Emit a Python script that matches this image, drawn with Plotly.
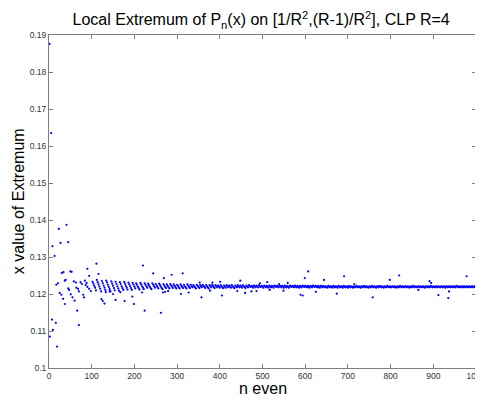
import plotly.graph_objects as go

# main band: one extremum per even n from 102 to 1000
band_n = list(range(102, 1001, 2))
band_x = [
    0.1233, 0.1228, 0.1222, 0.1217, 0.1210, 0.1238, 0.1232, 0.1226, 0.1220, 0.1214,
    0.1207, 0.1235, 0.1229, 0.1223, 0.1217, 0.1211, 0.1236, 0.1231, 0.1225, 0.1219,
    0.1213, 0.1207, 0.1234, 0.1228, 0.1222, 0.1216, 0.1210, 0.1233, 0.1227, 0.1221,
    0.1215, 0.1209, 0.1232, 0.1227, 0.1221, 0.1216, 0.1211, 0.1233, 0.1228, 0.1222,
    0.1217, 0.1212, 0.1231, 0.1226, 0.1221, 0.1216, 0.1211, 0.1230, 0.1225, 0.1220,
    0.1215, 0.1229, 0.1225, 0.1220, 0.1216, 0.1212, 0.1230, 0.1226, 0.1221, 0.1217,
    0.1213, 0.1229, 0.1225, 0.1221, 0.1217, 0.1228, 0.1224, 0.1220, 0.1216, 0.1213,
    0.1229, 0.1225, 0.1221, 0.1217, 0.1227, 0.1223, 0.1219, 0.1215, 0.1228, 0.1224,
    0.1220, 0.1216, 0.1213, 0.1227, 0.1223, 0.1219, 0.1216, 0.1226, 0.1222, 0.1218,
    0.1215, 0.1227, 0.1223, 0.1220, 0.1216, 0.1226, 0.1222, 0.1219, 0.1215, 0.1225,
    0.1222, 0.1218, 0.1215, 0.1226, 0.1222, 0.1219, 0.1216, 0.1225, 0.1221, 0.1218,
    0.1215, 0.1226, 0.1223, 0.1219, 0.1216, 0.1225, 0.1221, 0.1218, 0.1224, 0.1221,
    0.1218, 0.1215, 0.1225, 0.1222, 0.1219, 0.1216, 0.1224, 0.1221, 0.1218, 0.1225,
    0.1222, 0.1219, 0.1216, 0.1224, 0.1221, 0.1218, 0.1215, 0.1224, 0.1221, 0.1218,
    0.1225, 0.1222, 0.1219, 0.1216, 0.1224, 0.1221, 0.1218, 0.1223, 0.1220, 0.1217,
    0.1224, 0.1221, 0.1218, 0.1216, 0.1223, 0.1220, 0.1217, 0.1224, 0.1221, 0.1218,
    0.1223, 0.1220, 0.1217, 0.1224, 0.1221, 0.1218, 0.1216, 0.1223, 0.1220, 0.1218,
    0.1224, 0.1221, 0.1218, 0.1223, 0.1220, 0.1217, 0.1224, 0.1221, 0.1219, 0.1216,
    0.1223, 0.1220, 0.1218, 0.1224, 0.1221, 0.1219, 0.1222, 0.1220, 0.1217, 0.1223,
    0.1221, 0.1218, 0.1223, 0.1220, 0.1218, 0.1224, 0.1221, 0.1219, 0.1222, 0.1220,
    0.1217, 0.1223, 0.1221, 0.1218, 0.1222, 0.1220, 0.1217, 0.1223, 0.1220, 0.1218,
    0.1222, 0.1220, 0.1217, 0.1223, 0.1221, 0.1219, 0.1222, 0.1220, 0.1218, 0.1223,
    0.1221, 0.1218, 0.1222, 0.1220, 0.1217, 0.1223, 0.1220, 0.1218, 0.1222, 0.1219,
    0.1217, 0.1223, 0.1221, 0.1219, 0.1222, 0.1220, 0.1218, 0.1223, 0.1220, 0.1218,
    0.1222, 0.1219, 0.1217, 0.1222, 0.1220, 0.1218, 0.1223, 0.1221, 0.1219, 0.1222,
    0.1220, 0.1218, 0.1222, 0.1219, 0.1217, 0.1222, 0.1220, 0.1218, 0.1223, 0.1221,
    0.1219, 0.1222, 0.1220, 0.1218, 0.1222, 0.1219, 0.1217, 0.1222, 0.1220, 0.1218,
    0.1222, 0.1220, 0.1218, 0.1221, 0.1219, 0.1217, 0.1222, 0.1220, 0.1218, 0.1221,
    0.1219, 0.1217, 0.1222, 0.1220, 0.1218, 0.1221, 0.1219, 0.1217, 0.1222, 0.1220,
    0.1218, 0.1221, 0.1219, 0.1217, 0.1222, 0.1220, 0.1218, 0.1221, 0.1219, 0.1217,
    0.1222, 0.1220, 0.1218, 0.1221, 0.1219, 0.1217, 0.1221, 0.1219, 0.1218, 0.1222,
    0.1220, 0.1218, 0.1221, 0.1219, 0.1217, 0.1221, 0.1220, 0.1218, 0.1222, 0.1220,
    0.1218, 0.1221, 0.1219, 0.1217, 0.1221, 0.1219, 0.1218, 0.1222, 0.1220, 0.1218,
    0.1221, 0.1219, 0.1217, 0.1221, 0.1220, 0.1218, 0.1222, 0.1220, 0.1218, 0.1221,
    0.1219, 0.1217, 0.1221, 0.1219, 0.1218, 0.1222, 0.1220, 0.1218, 0.1221, 0.1219,
    0.1218, 0.1221, 0.1220, 0.1218, 0.1221, 0.1219, 0.1217, 0.1221, 0.1219, 0.1218,
    0.1222, 0.1220, 0.1218, 0.1221, 0.1219, 0.1218, 0.1221, 0.1220, 0.1218, 0.1221,
    0.1219, 0.1217, 0.1221, 0.1219, 0.1218, 0.1222, 0.1220, 0.1218, 0.1221, 0.1219,
    0.1218, 0.1221, 0.1220, 0.1218, 0.1221, 0.1219, 0.1218, 0.1221, 0.1219, 0.1217,
    0.1221, 0.1220, 0.1218, 0.1221, 0.1219, 0.1218, 0.1222, 0.1220, 0.1218, 0.1221,
    0.1219, 0.1218, 0.1221, 0.1220, 0.1218, 0.1221, 0.1219, 0.1218, 0.1221, 0.1220,
    0.1218, 0.1221, 0.1219, 0.1217, 0.1221, 0.1220, 0.1218, 0.1221, 0.1219, 0.1218,
    0.1221, 0.1220, 0.1218, 0.1221, 0.1219, 0.1218, 0.1222, 0.1220, 0.1218, 0.1221,
    0.1219, 0.1218, 0.1221, 0.1220, 0.1218, 0.1221, 0.1219, 0.1218, 0.1221, 0.1220,
    0.1218, 0.1221, 0.1219, 0.1218, 0.1221, 0.1220, 0.1218, 0.1221, 0.1219, 0.1218,
]

# early (small n) extrema and scattered outliers
extra_n = [
    1, 2, 5, 7, 8, 9, 13, 16, 19, 17, 21, 23, 27, 41, 45,
    25, 29, 33, 37, 30, 34, 37, 39, 45, 47, 51, 55, 60, 50, 53,
    58, 63, 66, 70, 64, 68, 70, 74, 77, 80, 82, 90, 94, 86, 90,
    94, 98, 84, 88, 111, 116, 130, 123, 126, 133, 142, 150, 167, 156, 177,
    199, 195, 220, 224, 262, 218, 244, 269, 287, 267, 272, 279, 313, 357, 353,
    383, 401, 405, 448, 459, 309, 327, 377, 441, 474, 486, 517, 549, 625, 494,
    511, 539, 559, 715, 589, 594, 599, 607, 644, 674, 691, 758, 798, 820, 865,
    891, 895, 912, 935, 937, 978,
]
extra_x = [
    0.1876, 0.1085, 0.1635, 0.1131, 0.1329, 0.1103, 0.1303, 0.1122, 0.1058, 0.1225,
    0.1229, 0.1376, 0.1338, 0.1387, 0.1340,
    0.1203, 0.1198, 0.1187, 0.1173, 0.1257, 0.1259, 0.1236, 0.1238, 0.1215, 0.1211,
    0.1199, 0.1191, 0.1182, 0.1261, 0.1260,
    0.1234, 0.1231, 0.1155, 0.1116, 0.1217, 0.1214, 0.1207, 0.1232, 0.1227, 0.1198,
    0.1191, 0.1268, 0.1249, 0.1224, 0.1219,
    0.1214, 0.1208, 0.1236, 0.1230, 0.1282, 0.1254, 0.1174, 0.1186, 0.1181, 0.1205,
    0.1207, 0.1200, 0.1205, 0.1184, 0.1181,
    0.1173, 0.1193, 0.1277, 0.1155, 0.1149, 0.1204, 0.1256, 0.1243, 0.1252, 0.1204,
    0.1206, 0.1208, 0.1256, 0.1191, 0.1231,
    0.1231, 0.1233, 0.1196, 0.1236, 0.1203, 0.1200, 0.1204, 0.1209, 0.1208, 0.1207,
    0.1208, 0.1211, 0.1209, 0.1206, 0.1229,
    0.1232, 0.1227, 0.1230, 0.1227, 0.1198, 0.1196, 0.1243, 0.1261, 0.1238, 0.1201,
    0.1248, 0.1191, 0.1238, 0.1250, 0.1211,
    0.1235, 0.1230, 0.1197, 0.1189, 0.1207, 0.1248,
]

x_ticks = [0, 100, 200, 300, 400, 500, 600, 700, 800, 900, 1000]
y_ticks = [0.1, 0.11, 0.12, 0.13, 0.14, 0.15, 0.16, 0.17, 0.18, 0.19]
y_labels = ["0.1", "0.11", "0.12", "0.13", "0.14", "0.15", "0.16", "0.17", "0.18", "0.19"]

FONT = "Liberation Sans, Arial"

fig = go.Figure()
fig.add_trace(go.Scatter(
    x=extra_n + band_n,
    y=extra_x + band_x,
    mode="markers",
    marker=dict(color="#0000ff", size=2.2, line_width=0),
    showlegend=False,
))

axis_style = dict(
    showline=True, linecolor="#7f7f7f", linewidth=1, mirror="ticks",
    ticks="inside", ticklen=4, tickcolor="#7f7f7f",
    showgrid=False, zeroline=False, ticklabeloverflow="allow", automargin=False,
    tickfont=dict(family=FONT, size=8.5, color="#333333"),
)

fig.update_xaxes(range=[0, 1000], tickvals=x_ticks, **axis_style)
fig.update_yaxes(range=[0.1, 0.19], tickvals=y_ticks, ticktext=y_labels, **axis_style)

fig.add_annotation(
    text="n even", xref="paper", yref="paper", x=0.5, y=-0.062,
    xanchor="center", yanchor="middle", showarrow=False,
    font=dict(family=FONT, size=16, color="black"),
)
fig.add_annotation(
    text="x value of Extremum", xref="paper", yref="paper", x=-0.071, y=0.5,
    xanchor="center", yanchor="middle", textangle=-90, showarrow=False,
    font=dict(family=FONT, size=16, color="black"),
)

# the page body adds an 8px offset, so the figure is 8px smaller than the window
fig.update_layout(
    width=475, height=395,
    margin=dict(l=41, r=7, t=27, b=35, autoexpand=False),
    paper_bgcolor="white", plot_bgcolor="white",
    title=dict(
        text="Local Extremum of P<sub>n</sub>(x) on [1/R<sup>2</sup>,(R-1)/R<sup>2</sup>], CLP R=4",
        x=0.533, xanchor="center", y=0.97, yanchor="middle",
        font=dict(family=FONT, size=16, color="black"),
    ),
)

fig.write_html("out.html")
